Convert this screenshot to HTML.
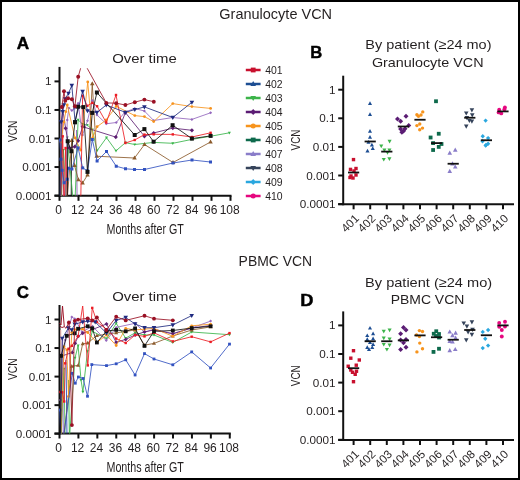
<!DOCTYPE html><html><head><meta charset="utf-8"><style>html,body{margin:0;padding:0;background:#fff;overflow:hidden}svg{display:block;will-change:transform}</style></head><body>
<svg width="520" height="480" viewBox="0 0 520 480" font-family='"Liberation Sans", sans-serif' fill="#231f20">
<rect x="0" y="0" width="520" height="480" fill="#fff"/>
<rect x="1" y="1" width="518" height="478" fill="none" stroke="#000" stroke-width="2"/>
<text x="219.3" y="18.7" font-size="14.6" textLength="112.8" lengthAdjust="spacingAndGlyphs">Granulocyte VCN</text>
<text x="238.6" y="266.2" font-size="14.6" textLength="73.6" lengthAdjust="spacingAndGlyphs">PBMC VCN</text>
<text x="16.8" y="49.2" font-size="17" textLength="12.4" lengthAdjust="spacingAndGlyphs" font-weight="bold" fill="#000" stroke="#000" stroke-width="0.45">A</text>
<text x="16.8" y="297.5" font-size="17" textLength="12.2" lengthAdjust="spacingAndGlyphs" font-weight="bold" fill="#000" stroke="#000" stroke-width="0.45">C</text>
<text x="310.3" y="58.1" font-size="17" textLength="12" lengthAdjust="spacingAndGlyphs" font-weight="bold" fill="#000" stroke="#000" stroke-width="0.45">B</text>
<text x="300.2" y="306.25" font-size="17" textLength="13.2" lengthAdjust="spacingAndGlyphs" font-weight="bold" fill="#000" stroke="#000" stroke-width="0.45">D</text>
<text x="112.2" y="63" font-size="13.5" textLength="64.6" lengthAdjust="spacingAndGlyphs">Over time</text>
<text x="112.2" y="301.2" font-size="13.5" textLength="64.6" lengthAdjust="spacingAndGlyphs">Over time</text>
<text x="365.3" y="49.2" font-size="13.5" textLength="126.2" lengthAdjust="spacingAndGlyphs">By patient (≥24 mo)</text>
<text x="371.9" y="66.7" font-size="13.5" textLength="111.6" lengthAdjust="spacingAndGlyphs">Granulocyte VCN</text>
<text x="365.1" y="287.2" font-size="13.5" textLength="127" lengthAdjust="spacingAndGlyphs">By patient (≥24 mo)</text>
<text x="390.7" y="304.1" font-size="13.5" textLength="73.6" lengthAdjust="spacingAndGlyphs">PBMC VCN</text>
<line x1="59.5" y1="66.9" x2="59.5" y2="196.8" stroke="#111" stroke-width="2"/>
<line x1="54.5" y1="195.8" x2="231.5" y2="195.8" stroke="#111" stroke-width="2"/>
<line x1="54.5" y1="81.4" x2="59.5" y2="81.4" stroke="#111" stroke-width="2"/>
<text x="51.6" y="85.4" font-size="11" textLength="6.51" lengthAdjust="spacingAndGlyphs" text-anchor="end">1</text>
<line x1="54.5" y1="109.95" x2="59.5" y2="109.95" stroke="#111" stroke-width="2"/>
<text x="51.6" y="113.95" font-size="11" textLength="16.28" lengthAdjust="spacingAndGlyphs" text-anchor="end">0.1</text>
<line x1="54.5" y1="138.5" x2="59.5" y2="138.5" stroke="#111" stroke-width="2"/>
<text x="51.6" y="142.5" font-size="11" textLength="22.8" lengthAdjust="spacingAndGlyphs" text-anchor="end">0.01</text>
<line x1="54.5" y1="167.05" x2="59.5" y2="167.05" stroke="#111" stroke-width="2"/>
<text x="51.6" y="171.05" font-size="11" textLength="29.31" lengthAdjust="spacingAndGlyphs" text-anchor="end">0.001</text>
<line x1="54.5" y1="195.60000000000002" x2="59.5" y2="195.60000000000002" stroke="#111" stroke-width="2"/>
<text x="51.6" y="199.60000000000002" font-size="11" textLength="35.82" lengthAdjust="spacingAndGlyphs" text-anchor="end">0.0001</text>
<line x1="59.5" y1="195.8" x2="59.5" y2="200.8" stroke="#111" stroke-width="2"/>
<text x="58.7" y="214.3" font-size="12" text-anchor="middle">0</text>
<line x1="78.5" y1="195.8" x2="78.5" y2="200.8" stroke="#111" stroke-width="2"/>
<text x="77.7" y="214.3" font-size="12" text-anchor="middle">12</text>
<line x1="97.5" y1="195.8" x2="97.5" y2="200.8" stroke="#111" stroke-width="2"/>
<text x="96.7" y="214.3" font-size="12" text-anchor="middle">24</text>
<line x1="116.5" y1="195.8" x2="116.5" y2="200.8" stroke="#111" stroke-width="2"/>
<text x="115.7" y="214.3" font-size="12" text-anchor="middle">36</text>
<line x1="135.5" y1="195.8" x2="135.5" y2="200.8" stroke="#111" stroke-width="2"/>
<text x="134.7" y="214.3" font-size="12" text-anchor="middle">48</text>
<line x1="154.5" y1="195.8" x2="154.5" y2="200.8" stroke="#111" stroke-width="2"/>
<text x="153.7" y="214.3" font-size="12" text-anchor="middle">60</text>
<line x1="173.5" y1="195.8" x2="173.5" y2="200.8" stroke="#111" stroke-width="2"/>
<text x="172.7" y="214.3" font-size="12" text-anchor="middle">72</text>
<line x1="192.5" y1="195.8" x2="192.5" y2="200.8" stroke="#111" stroke-width="2"/>
<text x="191.7" y="214.3" font-size="12" text-anchor="middle">84</text>
<line x1="211.5" y1="195.8" x2="211.5" y2="200.8" stroke="#111" stroke-width="2"/>
<text x="210.7" y="214.3" font-size="12" text-anchor="middle">96</text>
<line x1="230.5" y1="195.8" x2="230.5" y2="200.8" stroke="#111" stroke-width="2"/>
<text x="229.7" y="214.3" font-size="12" text-anchor="middle">108</text>
<text x="106.5" y="233.8" font-size="14" textLength="77.3" lengthAdjust="spacingAndGlyphs">Months after GT</text>
<text x="0" y="0" font-size="13.5" textLength="21.5" lengthAdjust="spacingAndGlyphs" text-anchor="middle" transform="translate(17.1 131.35000000000002) rotate(-90)">VCN</text>
<line x1="59.5" y1="305.0" x2="59.5" y2="434.5" stroke="#111" stroke-width="2"/>
<line x1="54.5" y1="433.5" x2="230.78000000000003" y2="433.5" stroke="#111" stroke-width="2"/>
<line x1="54.5" y1="319.5" x2="59.5" y2="319.5" stroke="#111" stroke-width="2"/>
<text x="51.6" y="323.5" font-size="11" textLength="6.51" lengthAdjust="spacingAndGlyphs" text-anchor="end">1</text>
<line x1="54.5" y1="348.05" x2="59.5" y2="348.05" stroke="#111" stroke-width="2"/>
<text x="51.6" y="352.05" font-size="11" textLength="16.28" lengthAdjust="spacingAndGlyphs" text-anchor="end">0.1</text>
<line x1="54.5" y1="376.6" x2="59.5" y2="376.6" stroke="#111" stroke-width="2"/>
<text x="51.6" y="380.6" font-size="11" textLength="22.8" lengthAdjust="spacingAndGlyphs" text-anchor="end">0.01</text>
<line x1="54.5" y1="405.15" x2="59.5" y2="405.15" stroke="#111" stroke-width="2"/>
<text x="51.6" y="409.15" font-size="11" textLength="29.31" lengthAdjust="spacingAndGlyphs" text-anchor="end">0.001</text>
<line x1="54.5" y1="433.7" x2="59.5" y2="433.7" stroke="#111" stroke-width="2"/>
<text x="51.6" y="437.7" font-size="11" textLength="35.82" lengthAdjust="spacingAndGlyphs" text-anchor="end">0.0001</text>
<line x1="59.5" y1="433.5" x2="59.5" y2="438.5" stroke="#111" stroke-width="2"/>
<text x="58.7" y="452.0" font-size="12" text-anchor="middle">0</text>
<line x1="78.42" y1="433.5" x2="78.42" y2="438.5" stroke="#111" stroke-width="2"/>
<text x="77.62" y="452.0" font-size="12" text-anchor="middle">12</text>
<line x1="97.34" y1="433.5" x2="97.34" y2="438.5" stroke="#111" stroke-width="2"/>
<text x="96.54" y="452.0" font-size="12" text-anchor="middle">24</text>
<line x1="116.26" y1="433.5" x2="116.26" y2="438.5" stroke="#111" stroke-width="2"/>
<text x="115.46000000000001" y="452.0" font-size="12" text-anchor="middle">36</text>
<line x1="135.18" y1="433.5" x2="135.18" y2="438.5" stroke="#111" stroke-width="2"/>
<text x="134.38" y="452.0" font-size="12" text-anchor="middle">48</text>
<line x1="154.10000000000002" y1="433.5" x2="154.10000000000002" y2="438.5" stroke="#111" stroke-width="2"/>
<text x="153.3" y="452.0" font-size="12" text-anchor="middle">60</text>
<line x1="173.02" y1="433.5" x2="173.02" y2="438.5" stroke="#111" stroke-width="2"/>
<text x="172.22" y="452.0" font-size="12" text-anchor="middle">72</text>
<line x1="191.94" y1="433.5" x2="191.94" y2="438.5" stroke="#111" stroke-width="2"/>
<text x="191.14" y="452.0" font-size="12" text-anchor="middle">84</text>
<line x1="210.86" y1="433.5" x2="210.86" y2="438.5" stroke="#111" stroke-width="2"/>
<text x="210.06" y="452.0" font-size="12" text-anchor="middle">96</text>
<line x1="229.78000000000003" y1="433.5" x2="229.78000000000003" y2="438.5" stroke="#111" stroke-width="2"/>
<text x="228.98000000000002" y="452.0" font-size="12" text-anchor="middle">108</text>
<text x="106.5" y="471.5" font-size="14" textLength="77.3" lengthAdjust="spacingAndGlyphs">Months after GT</text>
<text x="0" y="0" font-size="13.5" textLength="21.5" lengthAdjust="spacingAndGlyphs" text-anchor="middle" transform="translate(17.1 369.25) rotate(-90)">VCN</text>
<clipPath id="clipA"><rect x="59" y="68.2" width="180" height="127.6"/></clipPath>
<clipPath id="clipC"><rect x="59" y="306" width="180" height="127.5"/></clipPath>
<g clip-path="url(#clipA)">
<path d="M60.80 112.00 L61.60 215.00" fill="none" stroke="#f5b0b0" stroke-width="0.95"/>
<path d="M62.50 110.00 L63.20 215.00" fill="none" stroke="#f5b0b0" stroke-width="0.95"/>
<path d="M71.40 151.25 L71.20 215.00" fill="none" stroke="#111111" stroke-width="0.95"/>
<path d="M60.60 150.00 L60.20 215.00" fill="none" stroke="#3252c0" stroke-width="0.95"/>
<path d="M76.50 130.00 L77.20 215.00" fill="none" stroke="#9467bd" stroke-width="0.95"/>
</g>
<clipPath id="clipA2"><rect x="59" y="68.2" width="180" height="127.60000000000001"/></clipPath>
<g clip-path="url(#clipA2)">
<path d="M60.50 215.00 L63.50 150.00 L66.80 215.00 L67.25 137.50 L74.50 215.00 L78.10 119.80 L82.70 124.20 L87.25 125.00 L92.25 129.60 L97.10 150.70 L106.50 137.70 L116.00 150.80 L125.40 142.70 L134.80 144.50 L153.70 142.40 L172.80 143.30 L191.90 139.40 L210.60 136.25 L229.40 132.80" fill="none" stroke="#39b54a" stroke-width="0.85" stroke-linejoin="round"/>
<path d="M63.50 151.62L65.00 148.92L62.00 148.92Z" fill="#39b54a"/>
<path d="M67.25 139.12L68.75 136.42L65.75 136.42Z" fill="#39b54a"/>
<path d="M78.10 121.42L79.60 118.72L76.60 118.72Z" fill="#39b54a"/>
<path d="M82.70 125.82L84.20 123.12L81.20 123.12Z" fill="#39b54a"/>
<path d="M87.25 126.62L88.75 123.92L85.75 123.92Z" fill="#39b54a"/>
<path d="M92.25 131.22L93.75 128.52L90.75 128.52Z" fill="#39b54a"/>
<path d="M97.10 152.32L98.60 149.62L95.60 149.62Z" fill="#39b54a"/>
<path d="M106.50 139.32L108.00 136.62L105.00 136.62Z" fill="#39b54a"/>
<path d="M116.00 152.42L117.50 149.72L114.50 149.72Z" fill="#39b54a"/>
<path d="M125.40 144.32L126.90 141.62L123.90 141.62Z" fill="#39b54a"/>
<path d="M134.80 146.12L136.30 143.42L133.30 143.42Z" fill="#39b54a"/>
<path d="M153.70 144.02L155.20 141.32L152.20 141.32Z" fill="#39b54a"/>
<path d="M172.80 144.92L174.30 142.22L171.30 142.22Z" fill="#39b54a"/>
<path d="M191.90 141.02L193.40 138.32L190.40 138.32Z" fill="#39b54a"/>
<path d="M210.60 137.87L212.10 135.17L209.10 135.17Z" fill="#39b54a"/>
<path d="M229.40 134.42L230.90 131.72L227.90 131.72Z" fill="#39b54a"/>
<path d="M66.00 215.00 L71.80 140.40 L74.50 165.40 L78.40 179.70 L82.60 183.00 L87.50 175.00 L92.25 83.75 L96.70 156.25 L134.50 158.00 L144.50 144.50 L173.00 162.50 L210.50 142.00" fill="none" stroke="#8b5a2b" stroke-width="0.85" stroke-linejoin="round"/>
<path d="M71.80 137.97L74.05 142.02L69.55 142.02Z" fill="#8b5a2b"/>
<path d="M74.50 162.97L76.75 167.02L72.25 167.02Z" fill="#8b5a2b"/>
<path d="M78.40 177.27L80.65 181.32L76.15 181.32Z" fill="#8b5a2b"/>
<path d="M82.60 180.57L84.85 184.62L80.35 184.62Z" fill="#8b5a2b"/>
<path d="M87.50 172.57L89.75 176.62L85.25 176.62Z" fill="#8b5a2b"/>
<path d="M92.25 81.32L94.50 85.37L90.00 85.37Z" fill="#8b5a2b"/>
<path d="M96.70 153.82L98.95 157.87L94.45 157.87Z" fill="#8b5a2b"/>
<path d="M134.50 155.57L136.75 159.62L132.25 159.62Z" fill="#8b5a2b"/>
<path d="M144.50 142.07L146.75 146.12L142.25 146.12Z" fill="#8b5a2b"/>
<path d="M173.00 160.07L175.25 164.12L170.75 164.12Z" fill="#8b5a2b"/>
<path d="M210.50 139.57L212.75 143.62L208.25 143.62Z" fill="#8b5a2b"/>
<path d="M60.50 140.00 L65.20 215.00 L67.25 120.00 L68.90 107.90 L71.80 110.40 L74.75 108.30 L78.10 103.30 L82.50 135.00 L87.50 120.80 L92.40 100.40 L97.00 115.00 L106.25 123.75 L116.25 122.50 L125.00 112.00 L134.75 108.50 L144.40 111.00 L153.70 120.50 L172.80 117.50 L191.90 119.40 L210.60 112.80" fill="none" stroke="#9467bd" stroke-width="0.85" stroke-linejoin="round"/>
<path d="M60.50 138.50L62.00 140.00L60.50 141.50L59.00 140.00Z" fill="#9467bd"/>
<path d="M67.25 118.50L68.75 120.00L67.25 121.50L65.75 120.00Z" fill="#9467bd"/>
<path d="M68.90 106.40L70.40 107.90L68.90 109.40L67.40 107.90Z" fill="#9467bd"/>
<path d="M71.80 108.90L73.30 110.40L71.80 111.90L70.30 110.40Z" fill="#9467bd"/>
<path d="M74.75 106.80L76.25 108.30L74.75 109.80L73.25 108.30Z" fill="#9467bd"/>
<path d="M78.10 101.80L79.60 103.30L78.10 104.80L76.60 103.30Z" fill="#9467bd"/>
<path d="M82.50 133.50L84.00 135.00L82.50 136.50L81.00 135.00Z" fill="#9467bd"/>
<path d="M87.50 119.30L89.00 120.80L87.50 122.30L86.00 120.80Z" fill="#9467bd"/>
<path d="M92.40 98.90L93.90 100.40L92.40 101.90L90.90 100.40Z" fill="#9467bd"/>
<path d="M97.00 113.50L98.50 115.00L97.00 116.50L95.50 115.00Z" fill="#9467bd"/>
<path d="M106.25 122.25L107.75 123.75L106.25 125.25L104.75 123.75Z" fill="#9467bd"/>
<path d="M116.25 121.00L117.75 122.50L116.25 124.00L114.75 122.50Z" fill="#9467bd"/>
<path d="M125.00 110.50L126.50 112.00L125.00 113.50L123.50 112.00Z" fill="#9467bd"/>
<path d="M134.75 107.00L136.25 108.50L134.75 110.00L133.25 108.50Z" fill="#9467bd"/>
<path d="M144.40 109.50L145.90 111.00L144.40 112.50L142.90 111.00Z" fill="#9467bd"/>
<path d="M153.70 119.00L155.20 120.50L153.70 122.00L152.20 120.50Z" fill="#9467bd"/>
<path d="M172.80 116.00L174.30 117.50L172.80 119.00L171.30 117.50Z" fill="#9467bd"/>
<path d="M191.90 117.90L193.40 119.40L191.90 120.90L190.40 119.40Z" fill="#9467bd"/>
<path d="M210.60 111.30L212.10 112.80L210.60 114.30L209.10 112.80Z" fill="#9467bd"/>
<path d="M60.00 215.00 L62.40 107.00 L65.60 128.30 L69.30 147.90 L74.75 146.70 L78.10 140.80 L82.70 126.70 L115.80 137.10 L125.40 112.60 L144.40 136.30 L153.70 133.00 L172.80 128.10 L191.90 130.30" fill="none" stroke="#5e1f72" stroke-width="0.85" stroke-linejoin="round"/>
<path d="M62.40 104.90L64.50 107.00L62.40 109.10L60.30 107.00Z" fill="#5e1f72"/>
<path d="M65.60 126.20L67.70 128.30L65.60 130.40L63.50 128.30Z" fill="#5e1f72"/>
<path d="M69.30 145.80L71.40 147.90L69.30 150.00L67.20 147.90Z" fill="#5e1f72"/>
<path d="M74.75 144.60L76.85 146.70L74.75 148.80L72.65 146.70Z" fill="#5e1f72"/>
<path d="M78.10 138.70L80.20 140.80L78.10 142.90L76.00 140.80Z" fill="#5e1f72"/>
<path d="M82.70 124.60L84.80 126.70L82.70 128.80L80.60 126.70Z" fill="#5e1f72"/>
<path d="M115.80 135.00L117.90 137.10L115.80 139.20L113.70 137.10Z" fill="#5e1f72"/>
<path d="M125.40 110.50L127.50 112.60L125.40 114.70L123.30 112.60Z" fill="#5e1f72"/>
<path d="M144.40 134.20L146.50 136.30L144.40 138.40L142.30 136.30Z" fill="#5e1f72"/>
<path d="M153.70 130.90L155.80 133.00L153.70 135.10L151.60 133.00Z" fill="#5e1f72"/>
<path d="M172.80 126.00L174.90 128.10L172.80 130.20L170.70 128.10Z" fill="#5e1f72"/>
<path d="M191.90 128.20L194.00 130.30L191.90 132.40L189.80 130.30Z" fill="#5e1f72"/>
<path d="M60.30 215.00 L61.00 142.00 L63.90 122.00 L65.80 111.70 L67.25 105.00 L75.00 137.90 L80.50 150.00 L87.75 81.90 L92.60 138.00 L97.10 126.70 L106.25 120.00 L116.25 106.25 L134.80 115.60 L144.40 116.60 L153.70 121.60 L172.80 103.60 L191.90 106.60 L210.60 108.40" fill="none" stroke="#f7931e" stroke-width="0.85" stroke-linejoin="round"/>
<circle cx="61.00" cy="142.00" r="1.40" fill="#f7931e"/>
<circle cx="63.90" cy="122.00" r="1.40" fill="#f7931e"/>
<circle cx="65.80" cy="111.70" r="1.40" fill="#f7931e"/>
<circle cx="67.25" cy="105.00" r="1.40" fill="#f7931e"/>
<circle cx="75.00" cy="137.90" r="1.40" fill="#f7931e"/>
<circle cx="80.50" cy="150.00" r="1.40" fill="#f7931e"/>
<circle cx="87.75" cy="81.90" r="1.40" fill="#f7931e"/>
<circle cx="92.60" cy="138.00" r="1.40" fill="#f7931e"/>
<circle cx="97.10" cy="126.70" r="1.40" fill="#f7931e"/>
<circle cx="106.25" cy="120.00" r="1.40" fill="#f7931e"/>
<circle cx="116.25" cy="106.25" r="1.40" fill="#f7931e"/>
<circle cx="134.80" cy="115.60" r="1.40" fill="#f7931e"/>
<circle cx="144.40" cy="116.60" r="1.40" fill="#f7931e"/>
<circle cx="153.70" cy="121.60" r="1.40" fill="#f7931e"/>
<circle cx="172.80" cy="103.60" r="1.40" fill="#f7931e"/>
<circle cx="191.90" cy="106.60" r="1.40" fill="#f7931e"/>
<circle cx="210.60" cy="108.40" r="1.40" fill="#f7931e"/>
<path d="M60.20 215.00 L62.70 136.30 L64.20 215.00 L65.60 148.00 L67.80 215.00 L80.50 215.00 L82.60 95.75 L87.30 105.80 L92.30 102.90 L97.10 106.25 L106.25 122.50 L116.00 95.00 L125.40 143.00 L134.70 140.00 L144.40 134.60 L153.70 134.30 L172.80 134.40 L191.90 137.00 L210.60 132.80" fill="none" stroke="#ec1c24" stroke-width="0.85" stroke-linejoin="round"/>
<rect x="61.50" y="135.10" width="2.40" height="2.40" fill="#ec1c24"/>
<rect x="64.40" y="146.80" width="2.40" height="2.40" fill="#ec1c24"/>
<rect x="81.40" y="94.55" width="2.40" height="2.40" fill="#ec1c24"/>
<rect x="86.10" y="104.60" width="2.40" height="2.40" fill="#ec1c24"/>
<rect x="91.10" y="101.70" width="2.40" height="2.40" fill="#ec1c24"/>
<rect x="95.90" y="105.05" width="2.40" height="2.40" fill="#ec1c24"/>
<rect x="105.05" y="121.30" width="2.40" height="2.40" fill="#ec1c24"/>
<rect x="114.80" y="93.80" width="2.40" height="2.40" fill="#ec1c24"/>
<rect x="124.20" y="141.80" width="2.40" height="2.40" fill="#ec1c24"/>
<rect x="133.50" y="138.80" width="2.40" height="2.40" fill="#ec1c24"/>
<rect x="143.20" y="133.40" width="2.40" height="2.40" fill="#ec1c24"/>
<rect x="152.50" y="133.10" width="2.40" height="2.40" fill="#ec1c24"/>
<rect x="171.60" y="133.20" width="2.40" height="2.40" fill="#ec1c24"/>
<rect x="190.70" y="135.80" width="2.40" height="2.40" fill="#ec1c24"/>
<rect x="209.40" y="131.60" width="2.40" height="2.40" fill="#ec1c24"/>
<path d="M59.80 140.00 L61.00 159.20 L62.10 170.30 L64.20 182.80 L67.30 179.20 L68.50 168.20 L71.90 169.00 L78.10 147.90 L82.70 167.90 L87.50 170.80 L92.30 139.50 L97.10 161.00 L106.50 151.50 L116.25 166.25 L125.50 168.75 L134.50 169.50 L144.50 169.50 L173.00 163.00 L192.00 160.00 L210.50 162.00" fill="none" stroke="#3252c0" stroke-width="0.85" stroke-linejoin="round"/>
<rect x="58.30" y="138.50" width="3.00" height="3.00" fill="#3252c0"/>
<rect x="59.50" y="157.70" width="3.00" height="3.00" fill="#3252c0"/>
<rect x="60.60" y="168.80" width="3.00" height="3.00" fill="#3252c0"/>
<rect x="62.70" y="181.30" width="3.00" height="3.00" fill="#3252c0"/>
<rect x="65.80" y="177.70" width="3.00" height="3.00" fill="#3252c0"/>
<rect x="67.00" y="166.70" width="3.00" height="3.00" fill="#3252c0"/>
<rect x="70.40" y="167.50" width="3.00" height="3.00" fill="#3252c0"/>
<rect x="76.60" y="146.40" width="3.00" height="3.00" fill="#3252c0"/>
<rect x="81.20" y="166.40" width="3.00" height="3.00" fill="#3252c0"/>
<rect x="86.00" y="169.30" width="3.00" height="3.00" fill="#3252c0"/>
<rect x="90.80" y="138.00" width="3.00" height="3.00" fill="#3252c0"/>
<rect x="95.60" y="159.50" width="3.00" height="3.00" fill="#3252c0"/>
<rect x="105.00" y="150.00" width="3.00" height="3.00" fill="#3252c0"/>
<rect x="114.75" y="164.75" width="3.00" height="3.00" fill="#3252c0"/>
<rect x="124.00" y="167.25" width="3.00" height="3.00" fill="#3252c0"/>
<rect x="133.00" y="168.00" width="3.00" height="3.00" fill="#3252c0"/>
<rect x="143.00" y="168.00" width="3.00" height="3.00" fill="#3252c0"/>
<rect x="171.50" y="161.50" width="3.00" height="3.00" fill="#3252c0"/>
<rect x="190.50" y="158.50" width="3.00" height="3.00" fill="#3252c0"/>
<rect x="209.00" y="160.50" width="3.00" height="3.00" fill="#3252c0"/>
<path d="M60.50 215.00 L61.20 122.00 L62.70 111.70 L63.90 105.00 L65.10 98.90 L68.50 93.30 L71.80 85.50 L75.10 121.70 L82.60 91.40 L87.50 110.80 L96.90 112.50 L106.25 105.00 L125.40 112.30 L134.80 109.60 L144.40 106.90 L172.80 117.50 L191.90 102.30" fill="none" stroke="#1f2a80" stroke-width="0.85" stroke-linejoin="round"/>
<path d="M61.20 124.48L63.50 120.34L58.90 120.34Z" fill="#1f2a80"/>
<path d="M62.70 114.18L65.00 110.04L60.40 110.04Z" fill="#1f2a80"/>
<path d="M63.90 107.48L66.20 103.34L61.60 103.34Z" fill="#1f2a80"/>
<path d="M65.10 101.38L67.40 97.24L62.80 97.24Z" fill="#1f2a80"/>
<path d="M68.50 95.78L70.80 91.64L66.20 91.64Z" fill="#1f2a80"/>
<path d="M71.80 87.98L74.10 83.84L69.50 83.84Z" fill="#1f2a80"/>
<path d="M75.10 124.18L77.40 120.04L72.80 120.04Z" fill="#1f2a80"/>
<path d="M82.60 93.88L84.90 89.74L80.30 89.74Z" fill="#1f2a80"/>
<path d="M87.50 113.28L89.80 109.14L85.20 109.14Z" fill="#1f2a80"/>
<path d="M96.90 114.98L99.20 110.84L94.60 110.84Z" fill="#1f2a80"/>
<path d="M106.25 107.48L108.55 103.34L103.95 103.34Z" fill="#1f2a80"/>
<path d="M125.40 114.78L127.70 110.64L123.10 110.64Z" fill="#1f2a80"/>
<path d="M134.80 112.08L137.10 107.94L132.50 107.94Z" fill="#1f2a80"/>
<path d="M144.40 109.38L146.70 105.24L142.10 105.24Z" fill="#1f2a80"/>
<path d="M172.80 119.98L175.10 115.84L170.50 115.84Z" fill="#1f2a80"/>
<path d="M191.90 104.78L194.20 100.64L189.60 100.64Z" fill="#1f2a80"/>
<path d="M67.30 215.00 L67.70 141.25 L71.40 151.25 L75.00 122.30 L78.10 106.70 L83.30 107.10 L87.50 171.90 L92.25 112.90 L96.90 92.50 L134.70 135.00 L144.40 129.10 L153.60 141.70 L172.60 125.20 L191.90 138.60 L210.60 135.90" fill="none" stroke="#111111" stroke-width="0.85" stroke-linejoin="round"/>
<rect x="65.70" y="139.25" width="4.00" height="4.00" fill="#111111"/>
<rect x="69.40" y="149.25" width="4.00" height="4.00" fill="#111111"/>
<rect x="73.00" y="120.30" width="4.00" height="4.00" fill="#111111"/>
<rect x="76.10" y="104.70" width="4.00" height="4.00" fill="#111111"/>
<rect x="81.30" y="105.10" width="4.00" height="4.00" fill="#111111"/>
<rect x="85.50" y="169.90" width="4.00" height="4.00" fill="#111111"/>
<rect x="90.25" y="110.90" width="4.00" height="4.00" fill="#111111"/>
<rect x="94.90" y="90.50" width="4.00" height="4.00" fill="#111111"/>
<rect x="132.70" y="133.00" width="4.00" height="4.00" fill="#111111"/>
<rect x="142.40" y="127.10" width="4.00" height="4.00" fill="#111111"/>
<rect x="151.60" y="139.70" width="4.00" height="4.00" fill="#111111"/>
<rect x="170.60" y="123.20" width="4.00" height="4.00" fill="#111111"/>
<rect x="189.90" y="136.60" width="4.00" height="4.00" fill="#111111"/>
<rect x="208.60" y="133.90" width="4.00" height="4.00" fill="#111111"/>
<path d="M61.80 107.00 L64.00 91.30 L65.30 100.80 L68.10 98.20 L71.90 99.30 L74.90 106.30 L78.20 76.80 L82.85 60.40 L106.30 102.90 L116.20 103.20 L125.40 105.00 L134.80 102.20 L144.40 99.60 L153.80 101.70" fill="none" stroke="#9a1024" stroke-width="0.85" stroke-linejoin="round"/>
<circle cx="61.80" cy="107.00" r="1.95" fill="#9a1024"/>
<circle cx="64.00" cy="91.30" r="1.95" fill="#9a1024"/>
<circle cx="65.30" cy="100.80" r="1.95" fill="#9a1024"/>
<circle cx="68.10" cy="98.20" r="1.95" fill="#9a1024"/>
<circle cx="71.90" cy="99.30" r="1.95" fill="#9a1024"/>
<circle cx="74.90" cy="106.30" r="1.95" fill="#9a1024"/>
<circle cx="78.20" cy="76.80" r="1.95" fill="#9a1024"/>
<circle cx="106.30" cy="102.90" r="1.95" fill="#9a1024"/>
<circle cx="116.20" cy="103.20" r="1.95" fill="#9a1024"/>
<circle cx="125.40" cy="105.00" r="1.95" fill="#9a1024"/>
<circle cx="134.80" cy="102.20" r="1.95" fill="#9a1024"/>
<circle cx="144.40" cy="99.60" r="1.95" fill="#9a1024"/>
<circle cx="153.80" cy="101.70" r="1.95" fill="#9a1024"/>
</g>
<g clip-path="url(#clipC)">
<path d="M59.50 323.00 L61.00 325.00 L62.50 305.80 L64.30 326.70 L66.00 328.30 L68.90 322.50" fill="none" stroke="#9a1024" stroke-width="0.95"/>
<path d="M59.50 326.00 L62.00 327.50 L64.30 326.70" fill="none" stroke="#9a1024" stroke-width="0.95"/>
<path d="M60.80 330.00 L61.60 452.00" fill="none" stroke="#f5b0b0" stroke-width="0.95"/>
<path d="M68.60 380.00 L69.60 452.00" fill="none" stroke="#39b54a" stroke-width="0.95"/>
<path d="M66.00 360.00 L67.20 452.00" fill="none" stroke="#3252c0" stroke-width="0.95"/>
<path d="M62.60 340.00 L63.40 452.00" fill="none" stroke="#9467bd" stroke-width="0.95"/>
</g>
<clipPath id="clipC2"><rect x="59" y="306" width="180" height="127.5"/></clipPath>
<g clip-path="url(#clipC2)">
<path d="M60.50 452.00 L63.90 368.75 L65.40 452.00 L68.50 452.00 L75.00 357.90 L78.10 345.70 L81.00 380.00 L82.90 391.80 L87.50 351.25 L92.25 331.25 L106.50 338.60 L116.20 323.30 L125.70 338.20 L135.10 332.80 L144.50 335.00 L154.00 335.00 L172.80 342.50 L191.70 332.00 L229.50 334.70" fill="none" stroke="#39b54a" stroke-width="0.85" stroke-linejoin="round"/>
<path d="M63.90 370.37L65.40 367.67L62.40 367.67Z" fill="#39b54a"/>
<path d="M75.00 359.52L76.50 356.82L73.50 356.82Z" fill="#39b54a"/>
<path d="M78.10 347.32L79.60 344.62L76.60 344.62Z" fill="#39b54a"/>
<path d="M81.00 381.62L82.50 378.92L79.50 378.92Z" fill="#39b54a"/>
<path d="M82.90 393.42L84.40 390.72L81.40 390.72Z" fill="#39b54a"/>
<path d="M87.50 352.87L89.00 350.17L86.00 350.17Z" fill="#39b54a"/>
<path d="M92.25 332.87L93.75 330.17L90.75 330.17Z" fill="#39b54a"/>
<path d="M106.50 340.22L108.00 337.52L105.00 337.52Z" fill="#39b54a"/>
<path d="M116.20 324.92L117.70 322.22L114.70 322.22Z" fill="#39b54a"/>
<path d="M125.70 339.82L127.20 337.12L124.20 337.12Z" fill="#39b54a"/>
<path d="M135.10 334.42L136.60 331.72L133.60 331.72Z" fill="#39b54a"/>
<path d="M144.50 336.62L146.00 333.92L143.00 333.92Z" fill="#39b54a"/>
<path d="M154.00 336.62L155.50 333.92L152.50 333.92Z" fill="#39b54a"/>
<path d="M172.80 344.12L174.30 341.42L171.30 341.42Z" fill="#39b54a"/>
<path d="M191.70 333.62L193.20 330.92L190.20 330.92Z" fill="#39b54a"/>
<path d="M229.50 336.32L231.00 333.62L228.00 333.62Z" fill="#39b54a"/>
<path d="M62.00 452.00 L71.80 366.25 L78.10 365.40 L82.70 343.75 L87.70 343.00 L96.90 335.60 L116.20 332.80 L135.10 330.00 L144.50 345.20 L154.00 343.40 L172.80 336.00 L191.70 330.00 L210.60 326.90" fill="none" stroke="#8b5a2b" stroke-width="0.85" stroke-linejoin="round"/>
<path d="M71.80 364.09L73.80 367.69L69.80 367.69Z" fill="#8b5a2b"/>
<path d="M78.10 363.24L80.10 366.84L76.10 366.84Z" fill="#8b5a2b"/>
<path d="M82.70 341.59L84.70 345.19L80.70 345.19Z" fill="#8b5a2b"/>
<path d="M87.70 340.84L89.70 344.44L85.70 344.44Z" fill="#8b5a2b"/>
<path d="M96.90 333.44L98.90 337.04L94.90 337.04Z" fill="#8b5a2b"/>
<path d="M116.20 330.64L118.20 334.24L114.20 334.24Z" fill="#8b5a2b"/>
<path d="M135.10 327.84L137.10 331.44L133.10 331.44Z" fill="#8b5a2b"/>
<path d="M144.50 343.04L146.50 346.64L142.50 346.64Z" fill="#8b5a2b"/>
<path d="M154.00 341.24L156.00 344.84L152.00 344.84Z" fill="#8b5a2b"/>
<path d="M172.80 333.84L174.80 337.44L170.80 337.44Z" fill="#8b5a2b"/>
<path d="M191.70 327.84L193.70 331.44L189.70 331.44Z" fill="#8b5a2b"/>
<path d="M210.60 324.74L212.60 328.34L208.60 328.34Z" fill="#8b5a2b"/>
<path d="M60.50 400.00 L65.20 340.00 L71.80 317.10 L74.75 318.75 L82.00 332.00 L92.50 326.25 L106.25 340.60 L116.20 327.40 L135.10 323.30 L144.50 332.40 L154.00 329.20 L172.80 333.60 L191.70 328.00 L210.60 321.10" fill="none" stroke="#9467bd" stroke-width="0.85" stroke-linejoin="round"/>
<path d="M60.50 398.50L62.00 400.00L60.50 401.50L59.00 400.00Z" fill="#9467bd"/>
<path d="M65.20 338.50L66.70 340.00L65.20 341.50L63.70 340.00Z" fill="#9467bd"/>
<path d="M71.80 315.60L73.30 317.10L71.80 318.60L70.30 317.10Z" fill="#9467bd"/>
<path d="M74.75 317.25L76.25 318.75L74.75 320.25L73.25 318.75Z" fill="#9467bd"/>
<path d="M82.00 330.50L83.50 332.00L82.00 333.50L80.50 332.00Z" fill="#9467bd"/>
<path d="M92.50 324.75L94.00 326.25L92.50 327.75L91.00 326.25Z" fill="#9467bd"/>
<path d="M106.25 339.10L107.75 340.60L106.25 342.10L104.75 340.60Z" fill="#9467bd"/>
<path d="M116.20 325.90L117.70 327.40L116.20 328.90L114.70 327.40Z" fill="#9467bd"/>
<path d="M135.10 321.80L136.60 323.30L135.10 324.80L133.60 323.30Z" fill="#9467bd"/>
<path d="M144.50 330.90L146.00 332.40L144.50 333.90L143.00 332.40Z" fill="#9467bd"/>
<path d="M154.00 327.70L155.50 329.20L154.00 330.70L152.50 329.20Z" fill="#9467bd"/>
<path d="M172.80 332.10L174.30 333.60L172.80 335.10L171.30 333.60Z" fill="#9467bd"/>
<path d="M191.70 326.50L193.20 328.00L191.70 329.50L190.20 328.00Z" fill="#9467bd"/>
<path d="M210.60 319.60L212.10 321.10L210.60 322.60L209.10 321.10Z" fill="#9467bd"/>
<path d="M61.00 356.25 L72.25 352.50 L75.20 343.30 L78.10 336.25 L82.70 333.30 L106.50 324.00 L116.20 342.30 L125.70 339.40 L135.10 335.00 L144.50 331.80 L154.00 330.00 L172.80 333.80 L191.70 328.00 L210.60 325.50" fill="none" stroke="#5e1f72" stroke-width="0.85" stroke-linejoin="round"/>
<path d="M61.00 354.25L63.00 356.25L61.00 358.25L59.00 356.25Z" fill="#5e1f72"/>
<path d="M72.25 350.50L74.25 352.50L72.25 354.50L70.25 352.50Z" fill="#5e1f72"/>
<path d="M75.20 341.30L77.20 343.30L75.20 345.30L73.20 343.30Z" fill="#5e1f72"/>
<path d="M78.10 334.25L80.10 336.25L78.10 338.25L76.10 336.25Z" fill="#5e1f72"/>
<path d="M82.70 331.30L84.70 333.30L82.70 335.30L80.70 333.30Z" fill="#5e1f72"/>
<path d="M106.50 322.00L108.50 324.00L106.50 326.00L104.50 324.00Z" fill="#5e1f72"/>
<path d="M116.20 340.30L118.20 342.30L116.20 344.30L114.20 342.30Z" fill="#5e1f72"/>
<path d="M125.70 337.40L127.70 339.40L125.70 341.40L123.70 339.40Z" fill="#5e1f72"/>
<path d="M135.10 333.00L137.10 335.00L135.10 337.00L133.10 335.00Z" fill="#5e1f72"/>
<path d="M144.50 329.80L146.50 331.80L144.50 333.80L142.50 331.80Z" fill="#5e1f72"/>
<path d="M154.00 328.00L156.00 330.00L154.00 332.00L152.00 330.00Z" fill="#5e1f72"/>
<path d="M172.80 331.80L174.80 333.80L172.80 335.80L170.80 333.80Z" fill="#5e1f72"/>
<path d="M191.70 326.00L193.70 328.00L191.70 330.00L189.70 328.00Z" fill="#5e1f72"/>
<path d="M210.60 323.50L212.60 325.50L210.60 327.50L208.60 325.50Z" fill="#5e1f72"/>
<path d="M60.50 452.00 L63.90 346.70 L66.80 349.80 L68.50 396.50 L71.80 332.50 L74.75 329.60 L82.70 329.20 L87.70 332.50 L96.90 342.50 L106.50 335.00 L116.20 345.50 L125.70 328.40 L135.10 329.90 L144.50 329.20 L154.00 328.40 L172.80 336.25 L191.70 325.80 L210.60 324.20" fill="none" stroke="#f7931e" stroke-width="0.85" stroke-linejoin="round"/>
<circle cx="63.90" cy="346.70" r="1.40" fill="#f7931e"/>
<circle cx="66.80" cy="349.80" r="1.40" fill="#f7931e"/>
<circle cx="68.50" cy="396.50" r="1.40" fill="#f7931e"/>
<circle cx="71.80" cy="332.50" r="1.40" fill="#f7931e"/>
<circle cx="74.75" cy="329.60" r="1.40" fill="#f7931e"/>
<circle cx="82.70" cy="329.20" r="1.40" fill="#f7931e"/>
<circle cx="87.70" cy="332.50" r="1.40" fill="#f7931e"/>
<circle cx="96.90" cy="342.50" r="1.40" fill="#f7931e"/>
<circle cx="106.50" cy="335.00" r="1.40" fill="#f7931e"/>
<circle cx="116.20" cy="345.50" r="1.40" fill="#f7931e"/>
<circle cx="125.70" cy="328.40" r="1.40" fill="#f7931e"/>
<circle cx="135.10" cy="329.90" r="1.40" fill="#f7931e"/>
<circle cx="144.50" cy="329.20" r="1.40" fill="#f7931e"/>
<circle cx="154.00" cy="328.40" r="1.40" fill="#f7931e"/>
<circle cx="172.80" cy="336.25" r="1.40" fill="#f7931e"/>
<circle cx="191.70" cy="325.80" r="1.40" fill="#f7931e"/>
<circle cx="210.60" cy="324.20" r="1.40" fill="#f7931e"/>
<path d="M60.50 392.00 L62.30 392.30 L64.20 401.50 L65.20 363.30 L68.50 348.75 L71.80 345.80 L78.10 336.25 L82.70 305.80 L87.80 365.40 L92.25 307.90 L96.90 322.00 L106.50 329.20 L116.20 338.60 L125.70 343.00 L135.10 335.00 L144.50 336.40 L154.00 332.80 L172.80 341.40 L191.70 336.70 L210.60 341.90 L229.50 333.10" fill="none" stroke="#ec1c24" stroke-width="0.85" stroke-linejoin="round"/>
<rect x="59.30" y="390.80" width="2.40" height="2.40" fill="#ec1c24"/>
<rect x="61.10" y="391.10" width="2.40" height="2.40" fill="#ec1c24"/>
<rect x="63.00" y="400.30" width="2.40" height="2.40" fill="#ec1c24"/>
<rect x="64.00" y="362.10" width="2.40" height="2.40" fill="#ec1c24"/>
<rect x="67.30" y="347.55" width="2.40" height="2.40" fill="#ec1c24"/>
<rect x="70.60" y="344.60" width="2.40" height="2.40" fill="#ec1c24"/>
<rect x="76.90" y="335.05" width="2.40" height="2.40" fill="#ec1c24"/>
<rect x="86.60" y="364.20" width="2.40" height="2.40" fill="#ec1c24"/>
<rect x="91.05" y="306.70" width="2.40" height="2.40" fill="#ec1c24"/>
<rect x="95.70" y="320.80" width="2.40" height="2.40" fill="#ec1c24"/>
<rect x="105.30" y="328.00" width="2.40" height="2.40" fill="#ec1c24"/>
<rect x="115.00" y="337.40" width="2.40" height="2.40" fill="#ec1c24"/>
<rect x="124.50" y="341.80" width="2.40" height="2.40" fill="#ec1c24"/>
<rect x="133.90" y="333.80" width="2.40" height="2.40" fill="#ec1c24"/>
<rect x="143.30" y="335.20" width="2.40" height="2.40" fill="#ec1c24"/>
<rect x="152.80" y="331.60" width="2.40" height="2.40" fill="#ec1c24"/>
<rect x="171.60" y="340.20" width="2.40" height="2.40" fill="#ec1c24"/>
<rect x="190.50" y="335.50" width="2.40" height="2.40" fill="#ec1c24"/>
<rect x="209.40" y="340.70" width="2.40" height="2.40" fill="#ec1c24"/>
<rect x="228.30" y="331.90" width="2.40" height="2.40" fill="#ec1c24"/>
<path d="M59.80 410.00 L61.50 452.00 L72.20 373.30 L75.30 383.20 L78.40 377.00 L83.10 378.50 L87.50 396.25 L91.80 364.60 L106.50 365.60 L116.20 363.80 L125.70 359.80 L135.10 375.00 L144.50 353.60 L154.00 359.00 L172.80 364.80 L191.70 351.90 L210.60 368.00 L229.50 344.10" fill="none" stroke="#3252c0" stroke-width="0.85" stroke-linejoin="round"/>
<rect x="58.40" y="408.60" width="2.80" height="2.80" fill="#3252c0"/>
<rect x="70.80" y="371.90" width="2.80" height="2.80" fill="#3252c0"/>
<rect x="73.90" y="381.80" width="2.80" height="2.80" fill="#3252c0"/>
<rect x="77.00" y="375.60" width="2.80" height="2.80" fill="#3252c0"/>
<rect x="81.70" y="377.10" width="2.80" height="2.80" fill="#3252c0"/>
<rect x="86.10" y="394.85" width="2.80" height="2.80" fill="#3252c0"/>
<rect x="90.40" y="363.20" width="2.80" height="2.80" fill="#3252c0"/>
<rect x="105.10" y="364.20" width="2.80" height="2.80" fill="#3252c0"/>
<rect x="114.80" y="362.40" width="2.80" height="2.80" fill="#3252c0"/>
<rect x="124.30" y="358.40" width="2.80" height="2.80" fill="#3252c0"/>
<rect x="133.70" y="373.60" width="2.80" height="2.80" fill="#3252c0"/>
<rect x="143.10" y="352.20" width="2.80" height="2.80" fill="#3252c0"/>
<rect x="152.60" y="357.60" width="2.80" height="2.80" fill="#3252c0"/>
<rect x="171.40" y="363.40" width="2.80" height="2.80" fill="#3252c0"/>
<rect x="190.30" y="350.50" width="2.80" height="2.80" fill="#3252c0"/>
<rect x="209.20" y="366.60" width="2.80" height="2.80" fill="#3252c0"/>
<rect x="228.10" y="342.70" width="2.80" height="2.80" fill="#3252c0"/>
<path d="M60.20 452.00 L62.25 338.30 L68.50 327.90 L71.80 330.00 L74.75 324.20 L82.70 322.00 L87.70 321.25 L95.20 322.00 L106.50 333.10 L116.20 320.40 L125.70 317.50 L135.10 324.00 L144.50 327.70 L154.00 327.70 L172.80 325.00 L191.70 315.60" fill="none" stroke="#1f2a80" stroke-width="0.85" stroke-linejoin="round"/>
<path d="M62.25 340.78L64.55 336.64L59.95 336.64Z" fill="#1f2a80"/>
<path d="M68.50 330.38L70.80 326.24L66.20 326.24Z" fill="#1f2a80"/>
<path d="M71.80 332.48L74.10 328.34L69.50 328.34Z" fill="#1f2a80"/>
<path d="M74.75 326.68L77.05 322.54L72.45 322.54Z" fill="#1f2a80"/>
<path d="M82.70 324.48L85.00 320.34L80.40 320.34Z" fill="#1f2a80"/>
<path d="M87.70 323.73L90.00 319.59L85.40 319.59Z" fill="#1f2a80"/>
<path d="M95.20 324.48L97.50 320.34L92.90 320.34Z" fill="#1f2a80"/>
<path d="M106.50 335.58L108.80 331.44L104.20 331.44Z" fill="#1f2a80"/>
<path d="M116.20 322.88L118.50 318.74L113.90 318.74Z" fill="#1f2a80"/>
<path d="M125.70 319.98L128.00 315.84L123.40 315.84Z" fill="#1f2a80"/>
<path d="M135.10 326.48L137.40 322.34L132.80 322.34Z" fill="#1f2a80"/>
<path d="M144.50 330.18L146.80 326.04L142.20 326.04Z" fill="#1f2a80"/>
<path d="M154.00 330.18L156.30 326.04L151.70 326.04Z" fill="#1f2a80"/>
<path d="M172.80 327.48L175.10 323.34L170.50 323.34Z" fill="#1f2a80"/>
<path d="M191.70 318.08L194.00 313.94L189.40 313.94Z" fill="#1f2a80"/>
<path d="M60.50 452.00 L61.00 355.80 L66.80 335.80 L74.75 333.30 L78.10 328.75 L87.70 326.25 L92.25 328.30 L96.90 342.50 L106.50 331.00 L116.20 329.90 L125.70 331.30 L135.10 328.40 L144.50 345.90 L154.00 331.30 L172.80 330.50 L191.70 328.10 L210.60 326.25" fill="none" stroke="#111111" stroke-width="0.85" stroke-linejoin="round"/>
<rect x="59.10" y="353.90" width="3.80" height="3.80" fill="#111111"/>
<rect x="64.90" y="333.90" width="3.80" height="3.80" fill="#111111"/>
<rect x="72.85" y="331.40" width="3.80" height="3.80" fill="#111111"/>
<rect x="76.20" y="326.85" width="3.80" height="3.80" fill="#111111"/>
<rect x="85.80" y="324.35" width="3.80" height="3.80" fill="#111111"/>
<rect x="90.35" y="326.40" width="3.80" height="3.80" fill="#111111"/>
<rect x="95.00" y="340.60" width="3.80" height="3.80" fill="#111111"/>
<rect x="104.60" y="329.10" width="3.80" height="3.80" fill="#111111"/>
<rect x="114.30" y="328.00" width="3.80" height="3.80" fill="#111111"/>
<rect x="123.80" y="329.40" width="3.80" height="3.80" fill="#111111"/>
<rect x="133.20" y="326.50" width="3.80" height="3.80" fill="#111111"/>
<rect x="142.60" y="344.00" width="3.80" height="3.80" fill="#111111"/>
<rect x="152.10" y="329.40" width="3.80" height="3.80" fill="#111111"/>
<rect x="170.90" y="328.60" width="3.80" height="3.80" fill="#111111"/>
<rect x="189.80" y="326.20" width="3.80" height="3.80" fill="#111111"/>
<rect x="208.70" y="324.35" width="3.80" height="3.80" fill="#111111"/>
<path d="M68.90 322.50 L71.90 425.10 L74.75 320.80 L78.10 319.60 L87.70 318.30 L92.25 320.40 L96.90 317.50 L106.25 330.00 L116.20 316.75 L125.70 320.40 L144.50 315.75 L154.00 318.70 L172.80 320.30" fill="none" stroke="#9a1024" stroke-width="0.85" stroke-linejoin="round"/>
<circle cx="68.90" cy="322.50" r="1.90" fill="#9a1024"/>
<circle cx="71.90" cy="425.10" r="1.90" fill="#9a1024"/>
<circle cx="74.75" cy="320.80" r="1.90" fill="#9a1024"/>
<circle cx="78.10" cy="319.60" r="1.90" fill="#9a1024"/>
<circle cx="87.70" cy="318.30" r="1.90" fill="#9a1024"/>
<circle cx="92.25" cy="320.40" r="1.90" fill="#9a1024"/>
<circle cx="96.90" cy="317.50" r="1.90" fill="#9a1024"/>
<circle cx="106.25" cy="330.00" r="1.90" fill="#9a1024"/>
<circle cx="116.20" cy="316.75" r="1.90" fill="#9a1024"/>
<circle cx="125.70" cy="320.40" r="1.90" fill="#9a1024"/>
<circle cx="144.50" cy="315.75" r="1.90" fill="#9a1024"/>
<circle cx="154.00" cy="318.70" r="1.90" fill="#9a1024"/>
<circle cx="172.80" cy="320.30" r="1.90" fill="#9a1024"/>
</g>
<line x1="245.8" y1="70.0" x2="260.6" y2="70.0" stroke="#c8102e" stroke-width="2.5"/>
<rect x="250.80" y="67.60" width="4.80" height="4.80" fill="#c8102e"/>
<text x="265.2" y="73.5" font-size="11.2" textLength="17.4" lengthAdjust="spacingAndGlyphs">401</text>
<line x1="245.8" y1="84.0" x2="260.6" y2="84.0" stroke="#1d4e93" stroke-width="2.5"/>
<path d="M253.20 80.98L256.00 86.02L250.40 86.02Z" fill="#1d4e93"/>
<text x="265.2" y="87.5" font-size="11.2" textLength="17.4" lengthAdjust="spacingAndGlyphs">402</text>
<line x1="245.8" y1="98.0" x2="260.6" y2="98.0" stroke="#3cb44a" stroke-width="2.5"/>
<path d="M253.20 101.02L256.00 95.98L250.40 95.98Z" fill="#3cb44a"/>
<text x="265.2" y="101.5" font-size="11.2" textLength="17.4" lengthAdjust="spacingAndGlyphs">403</text>
<line x1="245.8" y1="112.0" x2="260.6" y2="112.0" stroke="#5b1c74" stroke-width="2.5"/>
<path d="M253.20 109.10L256.10 112.00L253.20 114.90L250.30 112.00Z" fill="#5b1c74"/>
<text x="265.2" y="115.5" font-size="11.2" textLength="17.4" lengthAdjust="spacingAndGlyphs">404</text>
<line x1="245.8" y1="126.0" x2="260.6" y2="126.0" stroke="#f7941d" stroke-width="2.5"/>
<circle cx="253.20" cy="126.00" r="2.50" fill="#f7941d"/>
<text x="265.2" y="129.5" font-size="11.2" textLength="17.4" lengthAdjust="spacingAndGlyphs">405</text>
<line x1="245.8" y1="140.0" x2="260.6" y2="140.0" stroke="#0e6a4c" stroke-width="2.5"/>
<rect x="250.80" y="137.60" width="4.80" height="4.80" fill="#0e6a4c"/>
<text x="265.2" y="143.5" font-size="11.2" textLength="17.4" lengthAdjust="spacingAndGlyphs">406</text>
<line x1="245.8" y1="154.0" x2="260.6" y2="154.0" stroke="#8a7dc9" stroke-width="2.5"/>
<path d="M253.20 150.98L256.00 156.02L250.40 156.02Z" fill="#8a7dc9"/>
<text x="265.2" y="157.5" font-size="11.2" textLength="17.4" lengthAdjust="spacingAndGlyphs">407</text>
<line x1="245.8" y1="168.0" x2="260.6" y2="168.0" stroke="#35435a" stroke-width="2.5"/>
<path d="M253.20 171.02L256.00 165.98L250.40 165.98Z" fill="#35435a"/>
<text x="265.2" y="171.5" font-size="11.2" textLength="17.4" lengthAdjust="spacingAndGlyphs">408</text>
<line x1="245.8" y1="182.0" x2="260.6" y2="182.0" stroke="#2aa7df" stroke-width="2.5"/>
<path d="M253.20 179.10L256.10 182.00L253.20 184.90L250.30 182.00Z" fill="#2aa7df"/>
<text x="265.2" y="185.5" font-size="11.2" textLength="17.4" lengthAdjust="spacingAndGlyphs">409</text>
<line x1="245.8" y1="196.0" x2="260.6" y2="196.0" stroke="#e6077f" stroke-width="2.5"/>
<circle cx="253.20" cy="196.00" r="2.50" fill="#e6077f"/>
<text x="265.2" y="199.5" font-size="11.2" textLength="17.4" lengthAdjust="spacingAndGlyphs">410</text>
<line x1="343.2" y1="75.7" x2="343.2" y2="205.3" stroke="#111" stroke-width="2"/>
<line x1="338.2" y1="204.3" x2="514" y2="204.3" stroke="#111" stroke-width="2"/>
<line x1="338.2" y1="89.7" x2="343.2" y2="89.7" stroke="#111" stroke-width="2"/>
<text x="335.5" y="93.7" font-size="11" textLength="6.51" lengthAdjust="spacingAndGlyphs" text-anchor="end">1</text>
<line x1="338.2" y1="118.30000000000001" x2="343.2" y2="118.30000000000001" stroke="#111" stroke-width="2"/>
<text x="335.5" y="122.30000000000001" font-size="11" textLength="16.28" lengthAdjust="spacingAndGlyphs" text-anchor="end">0.1</text>
<line x1="338.2" y1="146.9" x2="343.2" y2="146.9" stroke="#111" stroke-width="2"/>
<text x="335.5" y="150.9" font-size="11" textLength="22.8" lengthAdjust="spacingAndGlyphs" text-anchor="end">0.01</text>
<line x1="338.2" y1="175.5" x2="343.2" y2="175.5" stroke="#111" stroke-width="2"/>
<text x="335.5" y="179.5" font-size="11" textLength="29.31" lengthAdjust="spacingAndGlyphs" text-anchor="end">0.001</text>
<line x1="338.2" y1="204.10000000000002" x2="343.2" y2="204.10000000000002" stroke="#111" stroke-width="2"/>
<text x="335.5" y="208.10000000000002" font-size="11" textLength="35.82" lengthAdjust="spacingAndGlyphs" text-anchor="end">0.0001</text>
<line x1="353.6" y1="204.3" x2="353.6" y2="209.3" stroke="#111" stroke-width="2"/>
<text x="0" y="0" font-size="11.6" text-anchor="end" transform="translate(359.70000000000005 219.3) rotate(-45)">401</text>
<line x1="370.20000000000005" y1="204.3" x2="370.20000000000005" y2="209.3" stroke="#111" stroke-width="2"/>
<text x="0" y="0" font-size="11.6" text-anchor="end" transform="translate(376.30000000000007 219.3) rotate(-45)">402</text>
<line x1="386.8" y1="204.3" x2="386.8" y2="209.3" stroke="#111" stroke-width="2"/>
<text x="0" y="0" font-size="11.6" text-anchor="end" transform="translate(392.90000000000003 219.3) rotate(-45)">403</text>
<line x1="403.40000000000003" y1="204.3" x2="403.40000000000003" y2="209.3" stroke="#111" stroke-width="2"/>
<text x="0" y="0" font-size="11.6" text-anchor="end" transform="translate(409.50000000000006 219.3) rotate(-45)">404</text>
<line x1="420.0" y1="204.3" x2="420.0" y2="209.3" stroke="#111" stroke-width="2"/>
<text x="0" y="0" font-size="11.6" text-anchor="end" transform="translate(426.1 219.3) rotate(-45)">405</text>
<line x1="436.6" y1="204.3" x2="436.6" y2="209.3" stroke="#111" stroke-width="2"/>
<text x="0" y="0" font-size="11.6" text-anchor="end" transform="translate(442.70000000000005 219.3) rotate(-45)">406</text>
<line x1="453.20000000000005" y1="204.3" x2="453.20000000000005" y2="209.3" stroke="#111" stroke-width="2"/>
<text x="0" y="0" font-size="11.6" text-anchor="end" transform="translate(459.30000000000007 219.3) rotate(-45)">407</text>
<line x1="469.80000000000007" y1="204.3" x2="469.80000000000007" y2="209.3" stroke="#111" stroke-width="2"/>
<text x="0" y="0" font-size="11.6" text-anchor="end" transform="translate(475.9000000000001 219.3) rotate(-45)">408</text>
<line x1="486.40000000000003" y1="204.3" x2="486.40000000000003" y2="209.3" stroke="#111" stroke-width="2"/>
<text x="0" y="0" font-size="11.6" text-anchor="end" transform="translate(492.50000000000006 219.3) rotate(-45)">409</text>
<line x1="503.0" y1="204.3" x2="503.0" y2="209.3" stroke="#111" stroke-width="2"/>
<text x="0" y="0" font-size="11.6" text-anchor="end" transform="translate(509.1 219.3) rotate(-45)">410</text>
<text x="0" y="0" font-size="13.5" textLength="21" lengthAdjust="spacingAndGlyphs" text-anchor="middle" transform="translate(300.2 140.0) rotate(-90)">VCN</text>
<line x1="343.2" y1="311.4" x2="343.2" y2="441" stroke="#111" stroke-width="2"/>
<line x1="338.2" y1="440" x2="514" y2="440" stroke="#111" stroke-width="2"/>
<line x1="338.2" y1="325.4" x2="343.2" y2="325.4" stroke="#111" stroke-width="2"/>
<text x="335.5" y="329.4" font-size="11" textLength="6.51" lengthAdjust="spacingAndGlyphs" text-anchor="end">1</text>
<line x1="338.2" y1="354.0" x2="343.2" y2="354.0" stroke="#111" stroke-width="2"/>
<text x="335.5" y="358.0" font-size="11" textLength="16.28" lengthAdjust="spacingAndGlyphs" text-anchor="end">0.1</text>
<line x1="338.2" y1="382.59999999999997" x2="343.2" y2="382.59999999999997" stroke="#111" stroke-width="2"/>
<text x="335.5" y="386.59999999999997" font-size="11" textLength="22.8" lengthAdjust="spacingAndGlyphs" text-anchor="end">0.01</text>
<line x1="338.2" y1="411.2" x2="343.2" y2="411.2" stroke="#111" stroke-width="2"/>
<text x="335.5" y="415.2" font-size="11" textLength="29.31" lengthAdjust="spacingAndGlyphs" text-anchor="end">0.001</text>
<line x1="338.2" y1="439.79999999999995" x2="343.2" y2="439.79999999999995" stroke="#111" stroke-width="2"/>
<text x="335.5" y="443.79999999999995" font-size="11" textLength="35.82" lengthAdjust="spacingAndGlyphs" text-anchor="end">0.0001</text>
<line x1="353.6" y1="440" x2="353.6" y2="445" stroke="#111" stroke-width="2"/>
<text x="0" y="0" font-size="11.6" text-anchor="end" transform="translate(359.70000000000005 455) rotate(-45)">401</text>
<line x1="370.20000000000005" y1="440" x2="370.20000000000005" y2="445" stroke="#111" stroke-width="2"/>
<text x="0" y="0" font-size="11.6" text-anchor="end" transform="translate(376.30000000000007 455) rotate(-45)">402</text>
<line x1="386.8" y1="440" x2="386.8" y2="445" stroke="#111" stroke-width="2"/>
<text x="0" y="0" font-size="11.6" text-anchor="end" transform="translate(392.90000000000003 455) rotate(-45)">403</text>
<line x1="403.40000000000003" y1="440" x2="403.40000000000003" y2="445" stroke="#111" stroke-width="2"/>
<text x="0" y="0" font-size="11.6" text-anchor="end" transform="translate(409.50000000000006 455) rotate(-45)">404</text>
<line x1="420.0" y1="440" x2="420.0" y2="445" stroke="#111" stroke-width="2"/>
<text x="0" y="0" font-size="11.6" text-anchor="end" transform="translate(426.1 455) rotate(-45)">405</text>
<line x1="436.6" y1="440" x2="436.6" y2="445" stroke="#111" stroke-width="2"/>
<text x="0" y="0" font-size="11.6" text-anchor="end" transform="translate(442.70000000000005 455) rotate(-45)">406</text>
<line x1="453.20000000000005" y1="440" x2="453.20000000000005" y2="445" stroke="#111" stroke-width="2"/>
<text x="0" y="0" font-size="11.6" text-anchor="end" transform="translate(459.30000000000007 455) rotate(-45)">407</text>
<line x1="469.80000000000007" y1="440" x2="469.80000000000007" y2="445" stroke="#111" stroke-width="2"/>
<text x="0" y="0" font-size="11.6" text-anchor="end" transform="translate(475.9000000000001 455) rotate(-45)">408</text>
<line x1="486.40000000000003" y1="440" x2="486.40000000000003" y2="445" stroke="#111" stroke-width="2"/>
<text x="0" y="0" font-size="11.6" text-anchor="end" transform="translate(492.50000000000006 455) rotate(-45)">409</text>
<line x1="503.0" y1="440" x2="503.0" y2="445" stroke="#111" stroke-width="2"/>
<text x="0" y="0" font-size="11.6" text-anchor="end" transform="translate(509.1 455) rotate(-45)">410</text>
<text x="0" y="0" font-size="13.5" textLength="21" lengthAdjust="spacingAndGlyphs" text-anchor="middle" transform="translate(300.2 375.7) rotate(-90)">VCN</text>
<rect x="351.80" y="157.90" width="3.40" height="3.40" fill="#c8102e"/>
<rect x="348.80" y="167.70" width="3.40" height="3.40" fill="#c8102e"/>
<rect x="354.30" y="166.80" width="3.40" height="3.40" fill="#c8102e"/>
<rect x="349.30" y="174.30" width="3.40" height="3.40" fill="#c8102e"/>
<rect x="354.30" y="173.30" width="3.40" height="3.40" fill="#c8102e"/>
<rect x="351.30" y="176.30" width="3.40" height="3.40" fill="#c8102e"/>
<rect x="348.30" y="175.80" width="3.40" height="3.40" fill="#c8102e"/>
<rect x="352.30" y="169.30" width="3.40" height="3.40" fill="#c8102e"/>
<line x1="348.0" y1="172.5" x2="359.20000000000005" y2="172.5" stroke="#111" stroke-width="1.8"/>
<path d="M370.00 101.29L372.05 104.98L367.95 104.98Z" fill="#1d4e93"/>
<path d="M370.00 112.19L372.05 115.88L367.95 115.88Z" fill="#1d4e93"/>
<path d="M370.00 129.04L372.05 132.73L367.95 132.73Z" fill="#1d4e93"/>
<path d="M370.00 135.04L372.05 138.73L367.95 138.73Z" fill="#1d4e93"/>
<path d="M368.50 140.04L370.55 143.73L366.45 143.73Z" fill="#1d4e93"/>
<path d="M371.90 142.79L373.95 146.48L369.85 146.48Z" fill="#1d4e93"/>
<path d="M372.75 146.29L374.80 149.98L370.70 149.98Z" fill="#1d4e93"/>
<path d="M367.50 148.69L369.55 152.38L365.45 152.38Z" fill="#1d4e93"/>
<line x1="364.6" y1="141.5" x2="375.80000000000007" y2="141.5" stroke="#111" stroke-width="1.8"/>
<path d="M381.25 148.21L383.30 144.52L379.20 144.52Z" fill="#3cb44a"/>
<path d="M389.60 143.46L391.65 139.77L387.55 139.77Z" fill="#3cb44a"/>
<path d="M384.40 152.21L386.45 148.52L382.35 148.52Z" fill="#3cb44a"/>
<path d="M389.40 152.21L391.45 148.52L387.35 148.52Z" fill="#3cb44a"/>
<path d="M387.50 154.71L389.55 151.02L385.45 151.02Z" fill="#3cb44a"/>
<path d="M383.75 161.61L385.80 157.92L381.70 157.92Z" fill="#3cb44a"/>
<path d="M389.40 160.96L391.45 157.27L387.35 157.27Z" fill="#3cb44a"/>
<line x1="381.2" y1="151.6" x2="392.40000000000003" y2="151.6" stroke="#111" stroke-width="1.8"/>
<path d="M397.50 116.50L400.00 119.00L397.50 121.50L395.00 119.00Z" fill="#5b1c74"/>
<path d="M400.60 118.75L403.10 121.25L400.60 123.75L398.10 121.25Z" fill="#5b1c74"/>
<path d="M406.00 113.75L408.50 116.25L406.00 118.75L403.50 116.25Z" fill="#5b1c74"/>
<path d="M408.75 123.10L411.25 125.60L408.75 128.10L406.25 125.60Z" fill="#5b1c74"/>
<path d="M405.00 126.25L407.50 128.75L405.00 131.25L402.50 128.75Z" fill="#5b1c74"/>
<path d="M400.60 126.50L403.10 129.00L400.60 131.50L398.10 129.00Z" fill="#5b1c74"/>
<path d="M401.90 129.75L404.40 132.25L401.90 134.75L399.40 132.25Z" fill="#5b1c74"/>
<path d="M403.50 128.50L406.00 131.00L403.50 133.50L401.00 131.00Z" fill="#5b1c74"/>
<line x1="397.8" y1="126.5" x2="409.00000000000006" y2="126.5" stroke="#111" stroke-width="1.8"/>
<circle cx="422.75" cy="111.90" r="1.70" fill="#f7941d"/>
<circle cx="416.90" cy="114.75" r="1.70" fill="#f7941d"/>
<circle cx="421.00" cy="115.00" r="1.70" fill="#f7941d"/>
<circle cx="418.50" cy="116.25" r="1.70" fill="#f7941d"/>
<circle cx="419.75" cy="124.00" r="1.70" fill="#f7941d"/>
<circle cx="416.90" cy="125.60" r="1.70" fill="#f7941d"/>
<circle cx="422.50" cy="128.10" r="1.70" fill="#f7941d"/>
<circle cx="419.75" cy="129.75" r="1.70" fill="#f7941d"/>
<line x1="414.4" y1="119.75" x2="425.6" y2="119.75" stroke="#111" stroke-width="1.8"/>
<rect x="434.10" y="99.35" width="3.80" height="3.80" fill="#0e6a4c"/>
<rect x="436.85" y="131.85" width="3.80" height="3.80" fill="#0e6a4c"/>
<rect x="428.70" y="135.60" width="3.80" height="3.80" fill="#0e6a4c"/>
<rect x="431.20" y="141.20" width="3.80" height="3.80" fill="#0e6a4c"/>
<rect x="439.60" y="142.10" width="3.80" height="3.80" fill="#0e6a4c"/>
<rect x="436.85" y="145.00" width="3.80" height="3.80" fill="#0e6a4c"/>
<rect x="431.20" y="148.10" width="3.80" height="3.80" fill="#0e6a4c"/>
<line x1="431.0" y1="143.1" x2="442.20000000000005" y2="143.1" stroke="#111" stroke-width="1.8"/>
<path d="M455.25 147.52L457.55 151.66L452.95 151.66Z" fill="#8a7dc9"/>
<path d="M449.75 150.62L452.05 154.76L447.45 154.76Z" fill="#8a7dc9"/>
<path d="M452.50 161.27L454.80 165.41L450.20 165.41Z" fill="#8a7dc9"/>
<path d="M455.25 164.42L457.55 168.56L452.95 168.56Z" fill="#8a7dc9"/>
<path d="M449.75 168.77L452.05 172.91L447.45 172.91Z" fill="#8a7dc9"/>
<line x1="447.6" y1="163.75" x2="458.80000000000007" y2="163.75" stroke="#111" stroke-width="1.8"/>
<path d="M471.90 112.48L474.20 108.34L469.60 108.34Z" fill="#35435a"/>
<path d="M466.25 115.58L468.55 111.44L463.95 111.44Z" fill="#35435a"/>
<path d="M472.25 117.48L474.55 113.34L469.95 113.34Z" fill="#35435a"/>
<path d="M466.90 120.23L469.20 116.09L464.60 116.09Z" fill="#35435a"/>
<path d="M469.40 123.08L471.70 118.94L467.10 118.94Z" fill="#35435a"/>
<path d="M471.90 123.73L474.20 119.59L469.60 119.59Z" fill="#35435a"/>
<path d="M466.25 128.73L468.55 124.59L463.95 124.59Z" fill="#35435a"/>
<line x1="464.20000000000005" y1="117.75" x2="475.4000000000001" y2="117.75" stroke="#111" stroke-width="1.8"/>
<path d="M485.60 118.45L487.75 120.60L485.60 122.75L483.45 120.60Z" fill="#2aa7df"/>
<path d="M482.75 134.10L484.90 136.25L482.75 138.40L480.60 136.25Z" fill="#2aa7df"/>
<path d="M488.10 135.95L490.25 138.10L488.10 140.25L485.95 138.10Z" fill="#2aa7df"/>
<path d="M482.50 139.10L484.65 141.25L482.50 143.40L480.35 141.25Z" fill="#2aa7df"/>
<path d="M486.00 142.85L488.15 145.00L486.00 147.15L483.85 145.00Z" fill="#2aa7df"/>
<path d="M488.10 141.60L490.25 143.75L488.10 145.90L485.95 143.75Z" fill="#2aa7df"/>
<path d="M485.60 143.45L487.75 145.60L485.60 147.75L483.45 145.60Z" fill="#2aa7df"/>
<line x1="480.8" y1="140.25" x2="492.00000000000006" y2="140.25" stroke="#111" stroke-width="1.8"/>
<circle cx="504.90" cy="107.50" r="1.95" fill="#e6077f"/>
<circle cx="499.20" cy="109.80" r="1.95" fill="#e6077f"/>
<circle cx="501.25" cy="113.40" r="1.95" fill="#e6077f"/>
<circle cx="504.40" cy="109.30" r="1.95" fill="#e6077f"/>
<circle cx="498.60" cy="112.40" r="1.95" fill="#e6077f"/>
<line x1="497.4" y1="111.4" x2="508.6" y2="111.4" stroke="#111" stroke-width="1.8"/>
<rect x="351.80" y="349.00" width="3.40" height="3.40" fill="#c8102e"/>
<rect x="349.10" y="356.50" width="3.40" height="3.40" fill="#c8102e"/>
<rect x="357.60" y="358.30" width="3.40" height="3.40" fill="#c8102e"/>
<rect x="346.50" y="364.55" width="3.40" height="3.40" fill="#c8102e"/>
<rect x="354.55" y="363.50" width="3.40" height="3.40" fill="#c8102e"/>
<rect x="349.10" y="368.30" width="3.40" height="3.40" fill="#c8102e"/>
<rect x="350.80" y="370.60" width="3.40" height="3.40" fill="#c8102e"/>
<rect x="354.80" y="369.55" width="3.40" height="3.40" fill="#c8102e"/>
<rect x="353.50" y="372.60" width="3.40" height="3.40" fill="#c8102e"/>
<rect x="351.80" y="380.00" width="3.40" height="3.40" fill="#c8102e"/>
<line x1="348.0" y1="368.2" x2="359.20000000000005" y2="368.2" stroke="#111" stroke-width="1.8"/>
<path d="M370.00 325.89L372.05 329.58L367.95 329.58Z" fill="#1d4e93"/>
<path d="M373.10 331.54L375.15 335.23L371.05 335.23Z" fill="#1d4e93"/>
<path d="M367.25 333.39L369.30 337.08L365.20 337.08Z" fill="#1d4e93"/>
<path d="M373.10 336.54L375.15 340.23L371.05 340.23Z" fill="#1d4e93"/>
<path d="M367.25 337.19L369.30 340.88L365.20 340.88Z" fill="#1d4e93"/>
<path d="M370.00 340.29L372.05 343.98L367.95 343.98Z" fill="#1d4e93"/>
<path d="M373.10 342.19L375.15 345.88L371.05 345.88Z" fill="#1d4e93"/>
<path d="M367.25 345.29L369.30 348.98L365.20 348.98Z" fill="#1d4e93"/>
<path d="M372.25 345.29L374.30 348.98L370.20 348.98Z" fill="#1d4e93"/>
<path d="M369.00 347.19L371.05 350.88L366.95 350.88Z" fill="#1d4e93"/>
<line x1="364.6" y1="341.25" x2="375.80000000000007" y2="341.25" stroke="#111" stroke-width="1.8"/>
<path d="M383.75 333.46L385.80 329.77L381.70 329.77Z" fill="#3cb44a"/>
<path d="M389.60 332.21L391.65 328.52L387.55 328.52Z" fill="#3cb44a"/>
<path d="M383.75 340.31L385.80 336.62L381.70 336.62Z" fill="#3cb44a"/>
<path d="M389.60 341.21L391.65 337.52L387.55 337.52Z" fill="#3cb44a"/>
<path d="M383.75 346.61L385.80 342.92L381.70 342.92Z" fill="#3cb44a"/>
<path d="M389.60 347.21L391.65 343.52L387.55 343.52Z" fill="#3cb44a"/>
<path d="M386.90 351.61L388.95 347.92L384.85 347.92Z" fill="#3cb44a"/>
<line x1="381.2" y1="341.25" x2="392.40000000000003" y2="341.25" stroke="#111" stroke-width="1.8"/>
<path d="M403.50 325.00L406.00 327.50L403.50 330.00L401.00 327.50Z" fill="#5b1c74"/>
<path d="M406.00 327.50L408.50 330.00L406.00 332.50L403.50 330.00Z" fill="#5b1c74"/>
<path d="M400.60 331.25L403.10 333.75L400.60 336.25L398.10 333.75Z" fill="#5b1c74"/>
<path d="M406.00 336.90L408.50 339.40L406.00 341.90L403.50 339.40Z" fill="#5b1c74"/>
<path d="M400.60 337.50L403.10 340.00L400.60 342.50L398.10 340.00Z" fill="#5b1c74"/>
<path d="M403.50 340.25L406.00 342.75L403.50 345.25L401.00 342.75Z" fill="#5b1c74"/>
<path d="M406.00 344.75L408.50 347.25L406.00 349.75L403.50 347.25Z" fill="#5b1c74"/>
<path d="M400.60 346.90L403.10 349.40L400.60 351.90L398.10 349.40Z" fill="#5b1c74"/>
<line x1="397.8" y1="340.4" x2="409.00000000000006" y2="340.4" stroke="#111" stroke-width="1.8"/>
<circle cx="419.40" cy="330.60" r="1.70" fill="#f7941d"/>
<circle cx="422.50" cy="331.50" r="1.70" fill="#f7941d"/>
<circle cx="416.50" cy="335.00" r="1.70" fill="#f7941d"/>
<circle cx="419.40" cy="336.50" r="1.70" fill="#f7941d"/>
<circle cx="419.75" cy="343.10" r="1.70" fill="#f7941d"/>
<circle cx="422.50" cy="348.75" r="1.70" fill="#f7941d"/>
<circle cx="416.90" cy="351.90" r="1.70" fill="#f7941d"/>
<line x1="414.4" y1="335.4" x2="425.6" y2="335.4" stroke="#111" stroke-width="1.8"/>
<rect x="434.35" y="329.35" width="3.80" height="3.80" fill="#0e6a4c"/>
<rect x="431.85" y="331.85" width="3.80" height="3.80" fill="#0e6a4c"/>
<rect x="437.10" y="332.10" width="3.80" height="3.80" fill="#0e6a4c"/>
<rect x="437.10" y="335.60" width="3.80" height="3.80" fill="#0e6a4c"/>
<rect x="434.10" y="334.10" width="3.80" height="3.80" fill="#0e6a4c"/>
<rect x="437.10" y="346.85" width="3.80" height="3.80" fill="#0e6a4c"/>
<rect x="431.60" y="350.00" width="3.80" height="3.80" fill="#0e6a4c"/>
<line x1="431.0" y1="337.25" x2="442.20000000000005" y2="337.25" stroke="#111" stroke-width="1.8"/>
<path d="M449.75 329.42L452.05 333.56L447.45 333.56Z" fill="#8a7dc9"/>
<path d="M455.60 330.62L457.90 334.76L453.30 334.76Z" fill="#8a7dc9"/>
<path d="M452.50 333.12L454.80 337.26L450.20 337.26Z" fill="#8a7dc9"/>
<path d="M449.75 338.77L452.05 342.91L447.45 342.91Z" fill="#8a7dc9"/>
<path d="M452.50 339.42L454.80 343.56L450.20 343.56Z" fill="#8a7dc9"/>
<path d="M455.60 335.52L457.90 339.66L453.30 339.66Z" fill="#8a7dc9"/>
<path d="M449.75 348.12L452.05 352.26L447.45 352.26Z" fill="#8a7dc9"/>
<path d="M455.25 346.92L457.55 351.06L452.95 351.06Z" fill="#8a7dc9"/>
<line x1="447.6" y1="339.75" x2="458.80000000000007" y2="339.75" stroke="#111" stroke-width="1.8"/>
<path d="M471.90 324.38L474.20 320.24L469.60 320.24Z" fill="#35435a"/>
<path d="M463.75 325.58L466.05 321.44L461.45 321.44Z" fill="#35435a"/>
<path d="M466.90 328.73L469.20 324.59L464.60 324.59Z" fill="#35435a"/>
<path d="M472.50 331.88L474.80 327.74L470.20 327.74Z" fill="#35435a"/>
<path d="M468.10 334.38L470.40 330.24L465.80 330.24Z" fill="#35435a"/>
<path d="M471.90 336.88L474.20 332.74L469.60 332.74Z" fill="#35435a"/>
<path d="M466.25 342.48L468.55 338.34L463.95 338.34Z" fill="#35435a"/>
<line x1="464.20000000000005" y1="330" x2="475.4000000000001" y2="330" stroke="#111" stroke-width="1.8"/>
<path d="M488.10 327.85L490.25 330.00L488.10 332.15L485.95 330.00Z" fill="#2aa7df"/>
<path d="M482.75 329.75L484.90 331.90L482.75 334.05L480.60 331.90Z" fill="#2aa7df"/>
<path d="M485.25 336.60L487.40 338.75L485.25 340.90L483.10 338.75Z" fill="#2aa7df"/>
<path d="M482.75 345.95L484.90 348.10L482.75 350.25L480.60 348.10Z" fill="#2aa7df"/>
<path d="M488.10 343.45L490.25 345.60L488.10 347.75L485.95 345.60Z" fill="#2aa7df"/>
<line x1="480.8" y1="335.25" x2="492.00000000000006" y2="335.25" stroke="#111" stroke-width="1.8"/>
<circle cx="499.20" cy="322.90" r="1.95" fill="#e6077f"/>
<circle cx="505.00" cy="321.70" r="1.95" fill="#e6077f"/>
<circle cx="499.20" cy="326.70" r="1.95" fill="#e6077f"/>
<circle cx="505.00" cy="326.50" r="1.95" fill="#e6077f"/>
<circle cx="501.80" cy="330.00" r="1.95" fill="#e6077f"/>
<circle cx="501.80" cy="336.50" r="1.95" fill="#e6077f"/>
<line x1="497.4" y1="325.4" x2="508.6" y2="325.4" stroke="#111" stroke-width="1.8"/>
</svg></body></html>
